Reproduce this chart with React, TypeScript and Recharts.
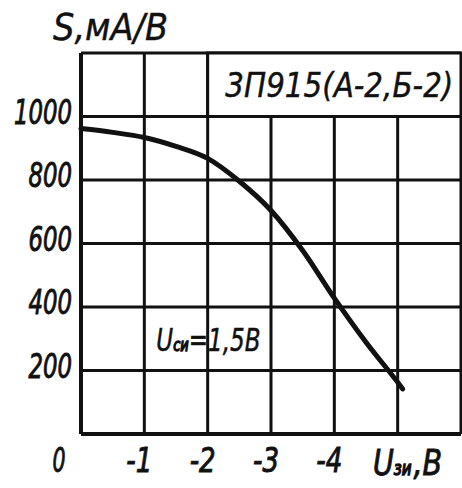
import { LineChart, Line, XAxis, YAxis, CartesianGrid, ReferenceArea, Label } from 'recharts';

// S(Uзи) curve
const U_VALUES = [0, -0.5, -1, -1.5, -2, -2.5, -3, -3.5, -4, -4.5, -5, -5.08];
const S_VALUES = [962, 950, 934, 906, 868, 796, 704, 578, 428, 289, 163, 142];

const X_TICKS = [0, -1, -2, -3, -4, -5, -6];
const X_TICK_LABELS = ['0', '-1', '-2', '-3', '-4', '', ''];
const Y_TICKS = [0, 200, 400, 600, 800, 1000, 1200];
const Y_TICK_LABELS = ['', '200', '400', '600', '800', '1000', ''];

const DEVICE = '3П915(А-2,Б-2)';

const FONT = "'Liberation Sans Narrow', 'DejaVu Sans Condensed', 'DejaVu Sans', sans-serif";
const INK = '#111';

const data = U_VALUES.map((u, i) => ({ u, s: S_VALUES[i] }));

// thin outline thickens the glyphs a little, like the drafting lettering
const textStyle = {
  fontFamily: FONT,
  fontStyle: 'italic' as const,
  fill: INK,
  stroke: INK,
  strokeWidth: 0.9,
};

function XTick({ x, y, payload }: any) {
  const label = X_TICK_LABELS[X_TICKS.indexOf(payload.value)];
  if (!label) return null;
  const dx = payload.value === 0 ? -22 : -5;
  return (
    <text
      x={x + dx}
      y={y + 38}
      textAnchor="middle"
      fontSize={34}
      textLength={label.length * 13}
      lengthAdjust="spacingAndGlyphs"
      style={textStyle}
    >
      {label}
    </text>
  );
}

function YTick({ x, y, payload }: any) {
  const label = Y_TICK_LABELS[Y_TICKS.indexOf(payload.value)];
  if (!label) return null;
  return (
    <text
      x={x - 9}
      y={y + 7}
      textAnchor="end"
      fontSize={34}
      textLength={label.length * 14.5}
      lengthAdjust="spacingAndGlyphs"
      style={textStyle}
    >
      {label}
    </text>
  );
}

export default function App() {
  return (
    <div style={{ position: 'absolute', left: 0, top: 0, background: '#fff' }}>
      <LineChart width={462} height={488} data={data} margin={{ top: 53, right: 1, bottom: 0, left: 0 }}>
        <CartesianGrid stroke={INK} strokeWidth={3} />
        <XAxis
          dataKey="u"
          type="number"
          domain={[-6, 0]}
          reversed
          ticks={X_TICKS}
          height={54}
          tickSize={0}
          tickMargin={0}
          tickLine={false}
          axisLine={{ stroke: INK, strokeWidth: 4 }}
          tick={<XTick />}
          interval={0}
        >
          <Label
            content={({ viewBox }: any) => (
              <g transform={`translate(${viewBox.x + viewBox.width - 88}, ${viewBox.y + 41}) scale(0.88, 1)`}>
                <text x={0} y={0} fontSize={36} style={textStyle}>
                  U<tspan fontSize={19} strokeWidth={1.4}>зи</tspan>
                  <tspan dx={2}>,В</tspan>
                </text>
              </g>
            )}
          />
        </XAxis>
        <YAxis
          type="number"
          domain={[0, 1200]}
          ticks={Y_TICKS}
          width={81}
          tickSize={0}
          tickMargin={0}
          tickLine={false}
          axisLine={{ stroke: INK, strokeWidth: 4 }}
          tick={<YTick />}
          interval={0}
        >
          <Label
            content={({ viewBox }: any) => (
              <text
                x={viewBox.x + 53}
                y={40}
                fontSize={38}
                textLength={115}
                lengthAdjust="spacingAndGlyphs"
                style={{ ...textStyle, strokeWidth: 0.4 }}
              >
                S,мА/В
              </text>
            )}
          />
        </YAxis>
        <ReferenceArea
          x1={-2}
          x2={-6}
          y1={1000}
          y2={1200}
          fill="#fff"
          fillOpacity={1}
          stroke={INK}
          strokeWidth={3}
          label={({ viewBox }: any) => (
            <text
              x={viewBox.x + viewBox.width / 2 + 5}
              y={viewBox.y + viewBox.height / 2 + 12}
              textAnchor="middle"
              fontSize={34}
              textLength={228}
              lengthAdjust="spacingAndGlyphs"
              style={{ ...textStyle, strokeWidth: 0.4 }}
            >
              {DEVICE}
            </text>
          )}
        />
        <ReferenceArea
          x1={-1}
          x2={-3}
          y1={200}
          y2={400}
          fillOpacity={0}
          strokeOpacity={0}
          label={({ viewBox }: any) => (
            <g transform={`translate(${viewBox.x + 12}, ${viewBox.y + viewBox.height / 2 + 12}) scale(0.8, 1)`}>
              <text x={0} y={0} fontSize={32} style={{ ...textStyle, strokeWidth: 0.5 }}>
                U<tspan fontSize={18} strokeWidth={1.4}>си</tspan>
                <tspan>=1,5В</tspan>
              </text>
            </g>
          )}
        />
        <Line
          dataKey="s"
          type="monotone"
          stroke={INK}
          strokeWidth={5}
          strokeLinecap="round"
          dot={false}
          isAnimationActive={false}
        />
      </LineChart>
    </div>
  );
}
